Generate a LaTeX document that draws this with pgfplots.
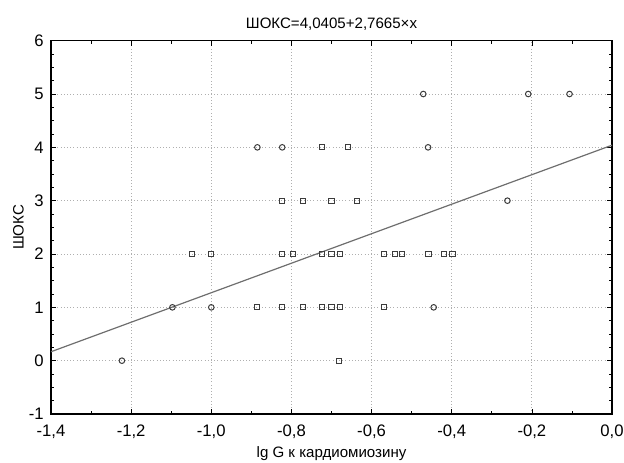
\documentclass[border=0pt]{standalone}
\usepackage{pgfplots}
\pgfplotsset{compat=1.18}
\usepackage{fontspec}
\setmainfont{Liberation Sans}
\definecolor{gridc}{RGB}{175,175,175}
\definecolor{markc}{RGB}{60,60,60}
\definecolor{linec}{RGB}{110,110,110}
\begin{document}
\begin{tikzpicture}
\useasboundingbox (-38.25pt,-36pt) rectangle (429.75pt,310.5pt);
\begin{axis}[
  at={(0,0)}, anchor=south west,
  scale only axis, width=420.75pt, height=280pt,
  xmin=-1.4, xmax=0, ymin=-1, ymax=6,
  xtick={-1.4,-1.2,-1.0,-0.8,-0.6,-0.4,-0.2,0},
  ytick={-1,0,1,2,3,4,5,6},
  minor x tick num=1, minor y tick num=3,
  tick align=inside, tick pos=both,
  major tick length=4pt, minor tick length=2.5pt,
  every tick/.style={black, line width=0.5pt},
  axis line style={black, line width=1pt},
  grid=major,
  major grid style={gridc, dotted, line width=0.6pt},
  /pgf/number format/assume math mode=true,
  tick label style={font=\fontsize{12.5}{14}\selectfont},
  xticklabel style={yshift=-4.5pt, /pgf/number format/.cd, use comma, fixed, fixed zerofill, precision=1},
  yticklabel style={xshift=-2pt, /pgf/number format/.cd, fixed, precision=0},
  title={ШОКС=4,0405+2,7665×x},
  title style={font=\fontsize{11.3}{13}\selectfont, yshift=-1.5pt},
  xlabel={lg G к кардиомиозину},
  ylabel={ШОКС},
  label style={font=\fontsize{11.3}{13}\selectfont},
  xlabel style={yshift=1pt},
  ylabel style={yshift=-3pt},
  clip=false,
]
\addplot[linec, line width=0.9pt] coordinates {(-1.4,0.1674) (0,4.0405)};
\addplot[only marks, mark=o, mark size=2.1pt, mark options={markc, line width=0.75pt}] coordinates {
(-1.223,0) (-1.097,1) (-1.0,1) (-0.885,4) (-0.823,4) (-0.471,5) (-0.209,5) (-0.106,5) (-0.459,4) (-0.261,3) (-0.445,1)
};
\addplot[only marks, mark=square, mark size=1.9pt, mark options={markc, line width=0.75pt}] coordinates {
(-0.723,4) (-0.659,4)
(-0.823,3) (-0.770,3) (-0.700,3) (-0.636,3)
(-1.047,2) (-1.000,2) (-0.823,2) (-0.796,2) (-0.723,2) (-0.700,2) (-0.679,2) (-0.568,2) (-0.541,2) (-0.524,2) (-0.458,2) (-0.420,2) (-0.398,2)
(-0.885,1) (-0.823,1) (-0.770,1) (-0.723,1) (-0.700,1) (-0.679,1) (-0.568,1)
(-0.681,0)
};
\end{axis}
\end{tikzpicture}
\end{document}
